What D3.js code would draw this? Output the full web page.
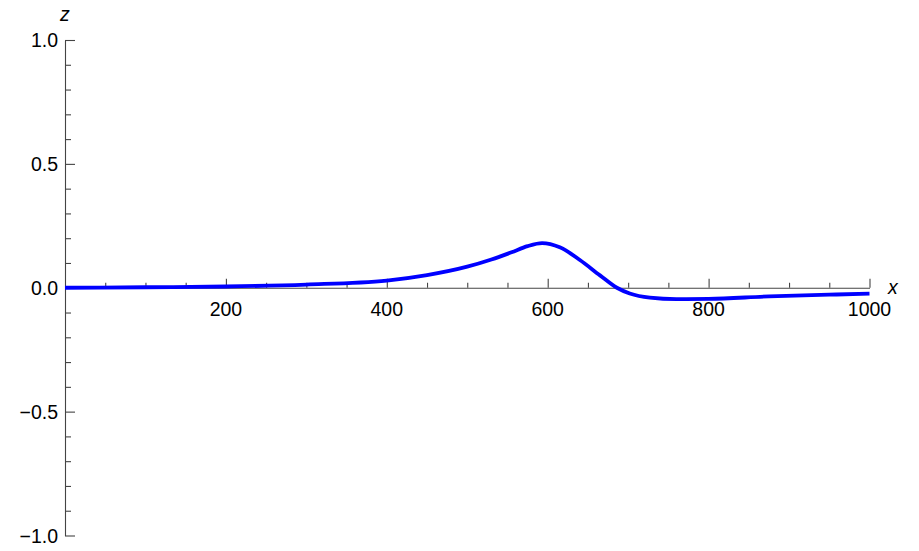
<!DOCTYPE html>
<html>
<head>
<meta charset="utf-8">
<script src="https://cdn.jsdelivr.net/npm/d3@7"></script>
<style>
  body { margin: 0; background: #fff; }
  text { font-family: "Liberation Sans", Arial, sans-serif; fill: #000; }
</style>
</head>
<body>
<div id="chart"></div>
<script>
// curve (x, z)
var xValues = [0, 100, 200, 300, 400, 450, 500, 530, 555, 575, 593, 615, 640, 665, 686, 702, 727, 760, 800, 875, 950, 1000];
var zValues = [0.000, 0.002, 0.005, 0.013, 0.029, 0.051, 0.085, 0.114, 0.143, 0.168, 0.180, 0.163, 0.112, 0.050, 0.000, -0.023, -0.040, -0.046, -0.045, -0.035, -0.028, -0.024];

var xMajor = [200, 400, 600, 800, 1000];
var xTickLabels = ["200", "400", "600", "800", "1000"];
var yMajor = [-1, -0.5, 0, 0.5, 1];
var yTickLabels = ["\u22121.0", "\u22120.5", "0.0", "0.5", "1.0"];

var width = 919, height = 551;

var svg = d3.select("#chart").append("svg")
    .attr("width", width)
    .attr("height", height);

var x = d3.scaleLinear().domain([0, 1000]).range([65, 869.5]);
var y = d3.scaleLinear().domain([-1, 1]).range([535.5, 40]);

var axisColor = "#444";
var fontSize = "19.5px";

// minor ticks
var xMinor = d3.range(50, 1001, 50).filter(function (d) { return xMajor.indexOf(d) < 0; });
var yMinor = d3.range(-10, 11).map(function (d) { return d / 10; })
    .filter(function (d) { return Math.abs(d * 2 - Math.round(d * 2)) > 1e-6; });

// x axis (ticks point up)
var xAxis = d3.axisTop(x).tickValues(xMajor).tickSize(9).tickFormat("").tickSizeOuter(0);
var gx = svg.append("g").attr("transform", "translate(0," + y(0) + ")").call(xAxis);
var xAxisMinor = d3.axisTop(x).tickValues(xMinor).tickSize(5).tickFormat("").tickSizeOuter(0);
var gx2 = svg.append("g").attr("transform", "translate(0," + y(0) + ")").call(xAxisMinor);
gx2.select(".domain").remove();

// y axis (ticks point right)
var yAxis = d3.axisRight(y).tickValues(yMajor).tickSize(10).tickFormat("").tickSizeOuter(0);
var gy = svg.append("g").attr("transform", "translate(" + x(0) + ",0)").call(yAxis);
var yAxisMinor = d3.axisRight(y).tickValues(yMinor).tickSize(6).tickFormat("").tickSizeOuter(0);
var gy2 = svg.append("g").attr("transform", "translate(" + x(0) + ",0)").call(yAxisMinor);
gy2.select(".domain").remove();

svg.selectAll(".domain, .tick line")
    .attr("stroke", axisColor)
    .attr("stroke-width", 1.1);

// tick labels
svg.selectAll(".xlab")
    .data(xMajor)
    .enter().append("text")
    .attr("class", "xlab")
    .attr("x", function (d) { return x(d); })
    .attr("y", y(0) + 28)
    .attr("text-anchor", "middle")
    .style("font-size", fontSize)
    .text(function (d, i) { return xTickLabels[i]; });

svg.selectAll(".ylab")
    .data(yMajor)
    .enter().append("text")
    .attr("class", "ylab")
    .attr("x", x(0) - 7)
    .attr("y", function (d) { return y(d); })
    .attr("dy", "0.36em")
    .attr("text-anchor", "end")
    .style("font-size", fontSize)
    .text(function (d, i) { return yTickLabels[i]; });

// axis names
svg.append("text")
    .attr("x", x(0) - 5)
    .attr("y", 21)
    .style("font-size", fontSize)
    .style("font-style", "italic")
    .text("z");

svg.append("text")
    .attr("x", 888)
    .attr("y", 294)
    .style("font-size", fontSize)
    .style("font-style", "italic")
    .text("x");

// the curve
var pts = xValues.map(function (d, i) { return [d, zValues[i]]; });
var line = d3.line()
    .x(function (d) { return x(d[0]); })
    .y(function (d) { return y(d[1]); })
    .curve(d3.curveMonotoneX);

svg.append("path")
    .datum(pts)
    .attr("fill", "none")
    .attr("stroke", "#0000ff")
    .attr("stroke-width", 3.8)
    .attr("stroke-linejoin", "round")
    .attr("d", line);
</script>
</body>
</html>
